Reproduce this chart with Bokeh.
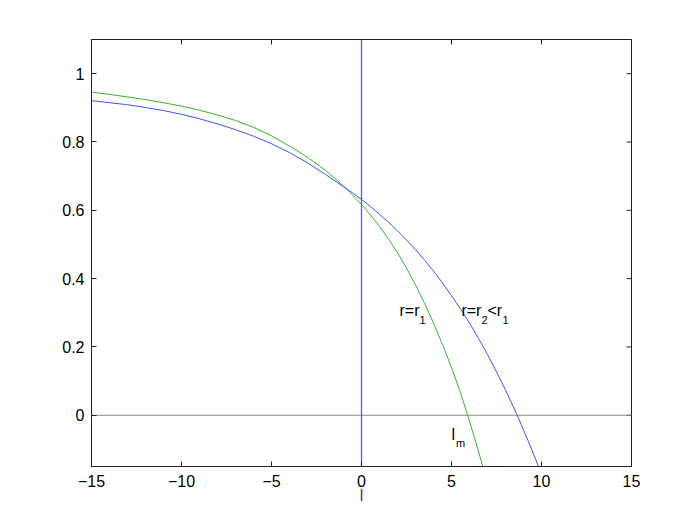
import math
from bokeh.plotting import figure
from bokeh.models import Range1d, FixedTicker, Label
from bokeh.embed import file_html
from bokeh.resources import INLINE

# ---- data ----
green_x = [-15, -14, -13, -12, -11, -10, -9, -8, -7, -6, -5, -4, -3, -2, -1, -0.5,
           0, 0.5, 1, 1.5, 2, 2.5, 3, 3.5, 4, 4.5, 5, 5.5, 5.9, 6.3, 6.75]
green_y = [0.946, 0.939, 0.932, 0.924, 0.915, 0.905, 0.893, 0.879, 0.863, 0.843,
           0.818, 0.788, 0.755, 0.717, 0.671, 0.645,
           0.617, 0.586, 0.553, 0.516, 0.476, 0.431, 0.382, 0.328, 0.270, 0.207,
           0.140, 0.066, 0.0, -0.070, -0.152]

blue_x = [-15, -14, -13, -12, -11, -10, -9, -8, -7, -6, -5, -4, -3, -2, -1, -0.5,
          0, 0.5, 1, 1.5, 2, 2.5, 3, 3.5, 4, 4.5, 5, 5.5, 6, 6.5, 7, 7.5, 8,
          8.65, 9.25, 9.85]
blue_y = [0.921, 0.915, 0.909, 0.901, 0.892, 0.881, 0.868, 0.853, 0.836, 0.817,
          0.795, 0.769, 0.739, 0.705, 0.669, 0.651,
          0.632, 0.611, 0.588, 0.565, 0.540, 0.513, 0.485, 0.454, 0.422, 0.387,
          0.350, 0.311, 0.270, 0.225, 0.178, 0.127, 0.074,
          0.0, -0.074, -0.152]

x_ticks = [-15, -10, -5, 0, 5, 10, 15]
x_tick_labels = ["\u221215", "\u221210", "\u22125", "0", "5", "10", "15"]
y_ticks = [0, 0.2, 0.4, 0.6, 0.8, 1]
y_tick_labels = ["0", "0.2", "0.4", "0.6", "0.8", "1"]

x_label = "l"
label1_main, label1_sub = "r=r", "1"
label2_parts = ["r=r", "2", "<r", "1"]
lm_main, lm_sub = "l", "m"

X_MIN, X_MAX = -15, 15
Y_MIN, Y_MAX = -0.15, 1.1
V_LINE_X = 0
H_LINE_Y = 0

BLUE = "#3f55ff"
GREEN = "#33b533"
ZERO = "#8c8c82"
AXIS = "#222222"
FONT = "Liberation Sans"

p = figure(width=690, height=516, output_backend="svg", toolbar_location=None,
           x_range=Range1d(X_MIN, X_MAX), y_range=Range1d(Y_MIN, Y_MAX),
           min_border_left=91, min_border_right=59, min_border_top=39,
           min_border_bottom=50, background_fill_color="white",
           border_fill_color="white")
p.grid.visible = False
p.outline_line_color = AXIS
p.outline_line_width = 1


def style(ax):
    ax.major_tick_in = 5
    ax.major_tick_out = 0
    ax.minor_tick_in = 0
    ax.minor_tick_out = 0
    ax.axis_line_color = AXIS
    ax.major_tick_line_color = AXIS
    ax.major_label_text_font = FONT
    ax.major_label_text_color = "black"
    ax.major_label_text_font_size = "16px"


bx = p.below[0]
bx.ticker = FixedTicker(ticks=x_ticks)
bx.major_label_overrides = dict(zip(x_ticks, x_tick_labels))
style(bx)
bx.major_label_standoff = 8
bx.axis_label = x_label
bx.axis_label_text_font = FONT
bx.axis_label_text_font_style = "normal"
bx.axis_label_text_font_size = "16px"
bx.axis_label_standoff = -3

ly = p.left[0]
ly.ticker = FixedTicker(ticks=y_ticks)
ly.major_label_overrides = dict(zip(y_ticks, y_tick_labels))
style(ly)
ly.major_label_standoff = 7

# mirrored inward ticks on the top and right edges (half of each dash is clipped)
p.scatter(x_ticks, [Y_MAX] * len(x_ticks), marker="dash", size=10,
          angle=math.pi / 2, line_color=AXIS, line_width=1)
p.scatter([X_MAX] * len(y_ticks), y_ticks, marker="dash", size=10,
          line_color=AXIS, line_width=1)

# reference lines
p.segment(x0=[X_MIN], y0=[H_LINE_Y], x1=[X_MAX], y1=[H_LINE_Y],
          line_color=ZERO, line_width=1)
p.segment(x0=[V_LINE_X], y0=[Y_MIN], x1=[V_LINE_X], y1=[Y_MAX],
          line_color="#4a5fff", line_width=1.3)

p.line(green_x, green_y, line_color=GREEN, line_width=1)
p.line(blue_x, blue_y, line_color=BLUE, line_width=1)


def lab(x, y, text, size, xo=0, yo=0):
    p.add_layout(Label(x=x, y=y, text=text, x_offset=xo, y_offset=yo,
                       text_font=FONT, text_font_size=size, text_color="black",
                       text_baseline="alphabetic", text_align="left"))


# r=r_1
lab(2.11, 0.306, label1_main, "16px")
lab(2.11, 0.306, label1_sub, "11px", xo=20, yo=-9)
# r=r_2<r_1
lab(5.55, 0.306, label2_parts[0], "16px")
lab(5.55, 0.306, label2_parts[1], "11px", xo=20, yo=-9)
lab(5.55, 0.306, label2_parts[2], "16px", xo=26)
lab(5.55, 0.306, label2_parts[3], "11px", xo=41, yo=-9)
# l_m
lab(5.0, -0.057, lm_main, "16px")
lab(5.0, -0.057, lm_sub, "11px", xo=4.5, yo=-8.5)

open("out.html", "w").write(file_html(p, INLINE))
